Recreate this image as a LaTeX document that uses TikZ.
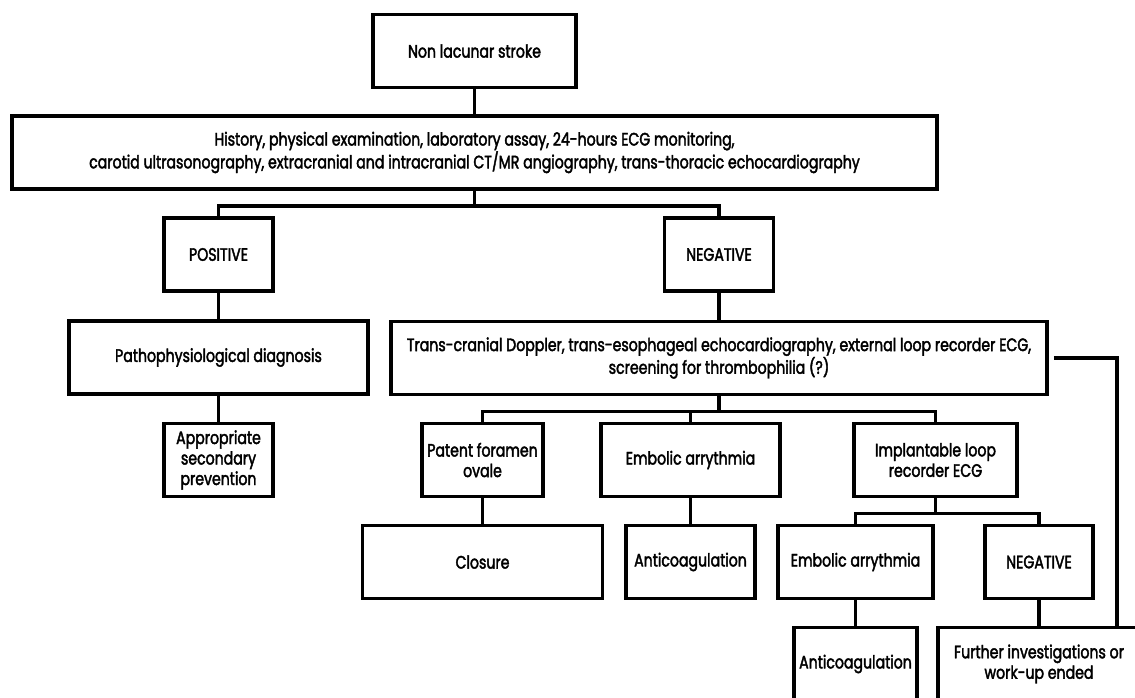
\documentclass[tikz,border=0pt]{standalone}
\usepackage{fontspec}
\setmainfont{Poppins}[FakeStretch=0.785,FakeBold=2.2]
\usetikzlibrary{positioning}

\begin{document}
\begin{tikzpicture}[x=1pt, y=-1pt, line width=3.5pt]
\useasboundingbox (0,0) rectangle (1135,697);
\clip (0,0) rectangle (1135,697);
\begin{scope}[shape=rectangle, minimum height=73pt, inner sep=0pt, align=center, font=\fontsize{18}{20.5}\selectfont]
\tikzstyle{every node}=[draw] %%
\node[minimum width=203pt] (stroke) at (474.5,51) {Non lacunar stroke}; %%
\node[minimum width=925pt] (hist) at (474.5,152.5) {History, physical examination, laboratory assay, 24-hours ECG monitoring,\\carotid ultrasonography, extracranial and intracranial CT/MR angiography, trans-thoracic echocardiography}; %%
\node[minimum width=109pt] (pos) at (218.5,254.5) {POSITIVE}; %%
\node[minimum width=109pt] (neg) at (719,254.5) {NEGATIVE}; %%
\node[minimum width=299pt] (patho) at (218.5,357.5) {Pathophysiological diagnosis}; %%
\node[minimum width=656pt] (trans) at (719,358) {Trans-cranial Doppler, trans-esophageal echocardiography, external loop recorder ECG,\\screening for thrombophilia (?)}; %%
\node[minimum width=109pt] (approp) at (218.5,460) {Appropriate\\secondary\\prevention}; %%
\node[minimum width=121pt] (patent) at (482.5,460) {Patent foramen\\ovale}; %%
\node[minimum width=179pt] (emb1) at (690.5,460) {Embolic arrythmia}; %%
\node[minimum width=163pt] (impl) at (935.5,460) {Implantable loop\\recorder ECG}; %%
\node[minimum width=240pt] (closure) at (482.5,562) {Closure}; %%
\node[minimum width=129pt] (anti1) at (690.5,562) {Anticoagulation}; %%
\node[minimum width=155pt] (emb2) at (855.5,562) {Embolic arrythmia}; %%
\node[minimum width=108pt] (neg2) at (1039,562) {NEGATIVE}; %%
\node[minimum width=123pt] (anti2) at (855.5,664) {Anticoagulation}; %%
\node[minimum width=202pt] (further) at (1039,664) {Further investigations or\\work-up ended}; %%
\end{scope}
\coordinate (loop) at (1117,628);
\draw (stroke) -- (hist); %%
\draw (hist.south) -- ++(0,15) -| (pos.north); %%
\draw (hist.south) -- ++(0,15) -| (neg.north); %%
\draw (pos) -- (patho); %%
\draw (patho) -- (approp); %%
\draw (neg) -- (trans); %%
\draw (trans.south) -- ++(0,15) -| (patent.north); %%
\draw (trans.south) -- ++(0,15) -| (emb1.north); %%
\draw (trans.south) -- ++(0,15) -| (impl.north); %%
\draw (patent) -- (closure); %%
\draw (emb1) -- (anti1); %%
\draw (impl.south) -- ++(0,15) -| (emb2.north); %%
\draw (impl.south) -- ++(0,15) -| (neg2.north); %%
\draw (emb2) -- (anti2); %%
\draw (neg2) -- (further); %%
\draw ([xshift=5pt]trans.east) -| (loop); %%
\end{tikzpicture}
\end{document}
